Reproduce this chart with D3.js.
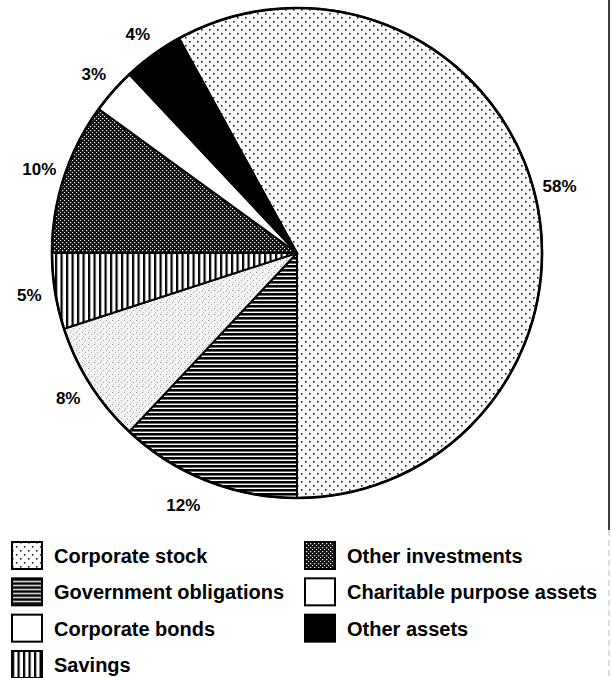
<!DOCTYPE html>
<html>
<head>
<meta charset="utf-8">
<script src="https://cdn.jsdelivr.net/npm/d3@7"></script>
<style>
  body { margin: 0; background: #fff; }
  svg { display: block; }
</style>
</head>
<body>
<div id="chart"></div>
<script>
// asset shares, in percent, clockwise from the 58% slice
const categories = ['Corporate stock', 'Government obligations', 'Corporate bonds', 'Savings',
    'Other investments', 'Charitable purpose assets', 'Other assets']
const shares = [58, 12, 8, 5, 10, 3, 4]
const sliceLabels = ['58%', '12%', '8%', '5%', '10%', '3%', '4%']
const legendOrder = ['Corporate stock', 'Government obligations', 'Corporate bonds', 'Savings',
    'Other investments', 'Charitable purpose assets', 'Other assets']

function draw_pie() {
    const width = 612, height = 678
    const cx = 297, cy = 253, radius = 245

    const svg = d3.select('#chart').append('svg')
        .attr('width', width).attr('height', height)

    const defs = svg.append('defs')

    // sparse dots
    let p = defs.append('pattern').attr('id', 'p-stock').attr('patternUnits', 'userSpaceOnUse')
        .attr('width', 8).attr('height', 8)
    p.append('rect').attr('width', 8).attr('height', 8).attr('fill', '#fff')
    p.append('rect').attr('x', 0).attr('y', 0).attr('width', 1.6).attr('height', 1.6).attr('fill', '#222')
    p.append('rect').attr('x', 4).attr('y', 4).attr('width', 1.6).attr('height', 1.6).attr('fill', '#222')

    // horizontal lines
    p = defs.append('pattern').attr('id', 'p-gov').attr('patternUnits', 'userSpaceOnUse')
        .attr('width', 4).attr('height', 4)
    p.append('rect').attr('width', 4).attr('height', 4).attr('fill', '#fff')
    p.append('rect').attr('y', 0).attr('width', 4).attr('height', 2.6).attr('fill', '#000')

    // light speckle
    p = defs.append('pattern').attr('id', 'p-bonds').attr('patternUnits', 'userSpaceOnUse')
        .attr('width', 6).attr('height', 6)
    p.append('rect').attr('width', 6).attr('height', 6).attr('fill', '#f2f2f2')
    p.append('rect').attr('x', 1).attr('y', 1).attr('width', 1).attr('height', 1).attr('fill', '#999')
    p.append('rect').attr('x', 4).attr('y', 3).attr('width', 1).attr('height', 1).attr('fill', '#aaa')
    p.append('rect').attr('x', 2).attr('y', 5).attr('width', 1).attr('height', 1).attr('fill', '#bbb')

    // vertical lines
    p = defs.append('pattern').attr('id', 'p-sav').attr('patternUnits', 'userSpaceOnUse')
        .attr('width', 5.5).attr('height', 5)
    p.append('rect').attr('width', 5.5).attr('height', 5).attr('fill', '#fff')
    p.append('rect').attr('x', 0).attr('width', 2.2).attr('height', 5).attr('fill', '#000')

    // dense crosshatch
    p = defs.append('pattern').attr('id', 'p-oinv').attr('patternUnits', 'userSpaceOnUse')
        .attr('width', 4).attr('height', 4)
    p.append('rect').attr('width', 4).attr('height', 4).attr('fill', '#111')
    p.append('rect').attr('x', 1).attr('y', 1).attr('width', 1.2).attr('height', 1.2).attr('fill', '#fff')
    p.append('rect').attr('x', 3).attr('y', 3).attr('width', 1.2).attr('height', 1.2).attr('fill', '#fff')

    const fill = d3.scaleOrdinal()
        .domain(categories)
        .range(['url(#p-stock)', 'url(#p-gov)', 'url(#p-bonds)', 'url(#p-sav)', 'url(#p-oinv)', '#fff', '#000'])
    const legendFill = d3.scaleOrdinal()
        .domain(categories)
        .range(['url(#p-stock)', 'url(#p-gov)', '#fff', 'url(#p-sav)', 'url(#p-oinv)', '#fff', '#000'])

    const data = categories.map((c, i) => ({name: c, value: shares[i], label: sliceLabels[i]}))

    // start so the largest slice ends straight down
    const startAngle = Math.PI - shares[0] / 100 * 2 * Math.PI
    const pie = d3.pie().value(d => d.value).sort(null)
        .startAngle(startAngle).endAngle(startAngle + 2 * Math.PI)
    const arcs = pie(data)
    const arc = d3.arc().innerRadius(0).outerRadius(radius)
    const labelArc = d3.arc().innerRadius(radius + 26).outerRadius(radius + 26)
    // the 12% label sits a bit left of its slice centre in the original
    const nudge = {'Government obligations': [-14, 0]}

    const g = svg.append('g').attr('transform', `translate(${cx},${cy})`)

    g.selectAll('path.slice').data(arcs).join('path')
        .attr('class', 'slice')
        .attr('d', arc)
        .attr('fill', d => fill(d.data.name))
        .attr('stroke', '#000')
        .attr('stroke-width', 2)
        .attr('stroke-linejoin', 'round')

    g.append('circle').attr('r', radius).attr('fill', 'none')
        .attr('stroke', '#000').attr('stroke-width', 2.6)

    g.selectAll('text.pct').data(arcs).join('text')
        .attr('class', 'pct')
        .attr('transform', d => {
            const [x, y] = labelArc.centroid(d)
            const [nx, ny] = nudge[d.data.name] || [0, 0]
            return `translate(${x + nx},${y + ny})`
        })
        .attr('text-anchor', 'middle')
        .attr('dy', '0.35em')
        .attr('font-family', '"Liberation Sans", Arial, sans-serif')
        .attr('font-weight', 'bold')
        .attr('font-size', 17)
        .text(d => d.data.label)

    // legend, two columns
    const legend = svg.append('g')
    const items = legendOrder.map((name, i) => ({name, col: i < 4 ? 0 : 1, row: i < 4 ? i : i - 4}))
    const colX = d3.scaleOrdinal().domain([0, 1]).range([12, 305])
    const rowY = d3.scaleLinear().domain([0, 3]).range([542, 651])

    const item = legend.selectAll('g').data(items).join('g')
        .attr('transform', d => `translate(${colX(d.col)},${rowY(d.row)})`)
    item.append('rect')
        .attr('width', 30).attr('height', 27)
        .attr('fill', d => legendFill(d.name))
        .attr('stroke', '#000').attr('stroke-width', 2)
    item.append('text')
        .attr('x', 42).attr('y', 14).attr('dy', '0.35em')
        .attr('font-family', '"Liberation Sans", Arial, sans-serif')
        .attr('font-weight', 'bold')
        .attr('font-size', 20)
        .text(d => d.name)

    // scanned page edge on the right
    svg.append('line').attr('x1', 609).attr('x2', 609).attr('y1', 0).attr('y2', 530)
        .attr('stroke', '#000').attr('stroke-width', 1.5)
    svg.append('line').attr('x1', 609).attr('x2', 609).attr('y1', 530).attr('y2', 678)
        .attr('stroke', '#bbb').attr('stroke-width', 1).attr('stroke-dasharray', '6,4')
}

draw_pie()
</script>
</body>
</html>
